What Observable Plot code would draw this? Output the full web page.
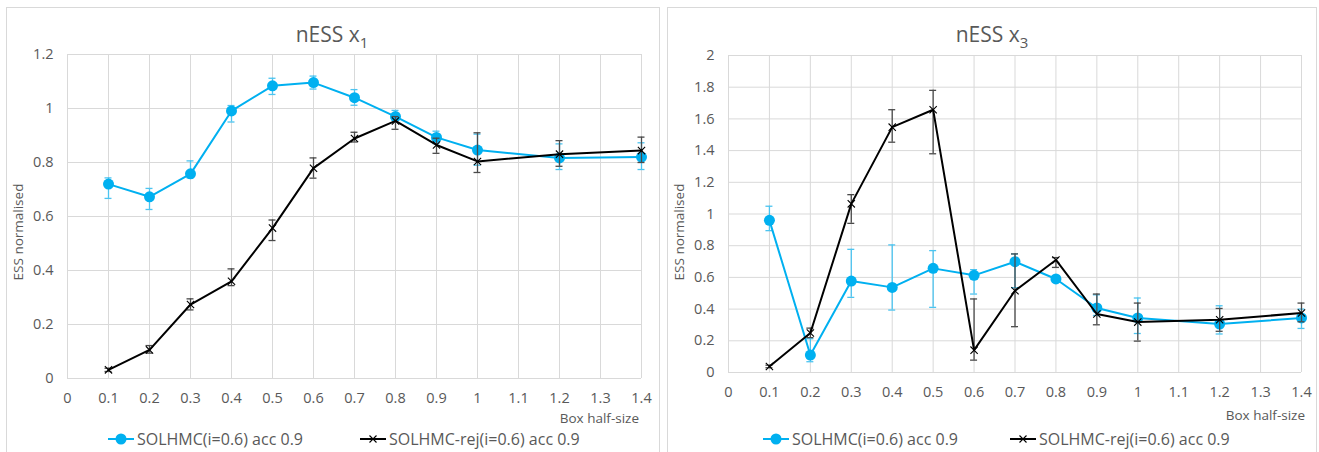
<!DOCTYPE html>
<html>
<head>
<meta charset="utf-8">
<script src="https://cdn.jsdelivr.net/npm/d3@7"></script>
<script src="https://cdn.jsdelivr.net/npm/@observablehq/plot@0.6"></script>
<style>
  html, body { margin: 0; padding: 0; background: #fff; }
  body { width: 1319px; height: 452px; position: relative; overflow: hidden; font-family: "Open Sans", sans-serif; color: #595959; }
  .panel { position: absolute; border: 1px solid #d9d9d9; box-sizing: border-box; background: #fff; }
  .abs { position: absolute; white-space: nowrap; }
  .title { font-size: 21px; text-align: center; line-height: 26px; height: 26px; }
  .title sub { font-size: 15px; vertical-align: -6px; line-height: 0; }
  .xlab { font-size: 13.5px; line-height: 18px; height: 18px; text-align: right; }
  .ylab { font-size: 13.5px; line-height: 18px; height: 18px; width: 140px; text-align: center; transform: rotate(-90deg); transform-origin: 50% 50%; }
  .legend { font-size: 16px; line-height: 22px; height: 22px; display: flex; align-items: center; }
  .legend svg { display: block; }
  .plotsvg { position: absolute; }
</style>
</head>
<body>
<div id="root"></div>
<script>
// ---------- data ----------
const xValues = [0.1, 0.2, 0.3, 0.4, 0.5, 0.6, 0.7, 0.8, 0.9, 1.0, 1.2, 1.4];
const xTicks = [0, 0.1, 0.2, 0.3, 0.4, 0.5, 0.6, 0.7, 0.8, 0.9, 1.0, 1.1, 1.2, 1.3, 1.4];
const yTicksLeft = [0, 0.2, 0.4, 0.6, 0.8, 1.0, 1.2];
const yTicksRight = [0, 0.2, 0.4, 0.6, 0.8, 1.0, 1.2, 1.4, 1.6, 1.8, 2.0];
const seriesNames = ["SOLHMC(i=0.6) acc 0.9", "SOLHMC-rej(i=0.6) acc 0.9"];
const titles = ["nESS x", "nESS x"];
const titleSubs = ["1", "3"];
const xAxisTitle = "Box half-size";
const yAxisTitle = "ESS normalised";

// nESS x1 (left)
const x1SolMean = [0.720, 0.673, 0.758, 0.991, 1.084, 1.096, 1.040, 0.970, 0.893, 0.846, 0.817, 0.820];
const x1SolLow  = [0.667, 0.626, 0.743, 0.950, 1.052, 1.072, 1.012, 0.956, 0.870, 0.790, 0.774, 0.774];
const x1SolHigh = [0.743, 0.704, 0.806, 1.011, 1.112, 1.120, 1.070, 0.993, 0.916, 0.905, 0.869, 0.873];
const x1RejMean = [0.032, 0.106, 0.274, 0.360, 0.557, 0.779, 0.889, 0.954, 0.865, 0.804, 0.831, 0.844];
const x1RejLow  = [0.026, 0.094, 0.254, 0.344, 0.511, 0.742, 0.876, 0.923, 0.834, 0.763, 0.786, 0.800];
const x1RejHigh = [0.038, 0.122, 0.295, 0.406, 0.587, 0.817, 0.912, 0.970, 0.890, 0.910, 0.881, 0.894];

// nESS x3 (right)
const x3SolMean = [0.960, 0.110, 0.577, 0.537, 0.657, 0.613, 0.699, 0.590, 0.407, 0.344, 0.306, 0.344];
const x3SolLow  = [0.895, 0.068, 0.474, 0.394, 0.411, 0.495, 0.535, 0.570, 0.360, 0.246, 0.243, 0.278];
const x3SolHigh = [1.049, 0.213, 0.777, 0.805, 0.769, 0.649, 0.748, 0.610, 0.490, 0.470, 0.421, 0.400];
const x3RejMean = [0.038, 0.249, 1.064, 1.548, 1.658, 0.141, 0.516, 0.710, 0.369, 0.318, 0.333, 0.375];
const x3RejLow  = [0.030, 0.220, 0.941, 1.453, 1.380, 0.078, 0.289, 0.663, 0.301, 0.198, 0.260, 0.320];
const x3RejHigh = [0.046, 0.280, 1.122, 1.658, 1.780, 0.464, 0.748, 0.725, 0.495, 0.438, 0.404, 0.438];

// ---------- styles ----------
const BLUE = "#00b0f0";
const BLUE_ERR = "#4cc4f0";
const BLACK = "#000000";
const BLACK_ERR = "#4a4a4a";
const GRID = "#d9d9d9";

function rows(mean, low, high) {
  return xValues.map((x, i) => ({x, y: mean[i], lo: low[i], hi: high[i]}));
}
const fmt = d => String(+(+d).toFixed(1));

function errMarks(data, color) {
  return [
    Plot.ruleX(data, {x: "x", y1: "lo", y2: "hi", stroke: color, strokeWidth: 1.3}),
    Plot.ruleY(data, {y: "hi", x1: "x", x2: "x", insetLeft: -3.5, insetRight: -3.5, stroke: color, strokeWidth: 1.3}),
    Plot.ruleY(data, {y: "lo", x1: "x", x2: "x", insetLeft: -3.5, insetRight: -3.5, stroke: color, strokeWidth: 1.3})
  ];
}

function makeChart(cfg) {
  const sol = rows(cfg.solMean, cfg.solLow, cfg.solHigh);
  const rej = rows(cfg.rejMean, cfg.rejLow, cfg.rejHigh);
  const svg = Plot.plot({
    width: cfg.width,
    height: cfg.height,
    marginLeft: cfg.ml, marginRight: cfg.mr, marginTop: cfg.mt, marginBottom: cfg.mb,
    style: {fontFamily: "'Open Sans', sans-serif", fontSize: "14.5px", color: "#595959", background: "transparent", overflow: "visible"},
    x: {domain: [0, 1.4], ticks: xTicks, tickFormat: fmt, tickSize: 0, tickPadding: 14, label: null},
    y: {domain: cfg.yDomain, ticks: cfg.yTicks, tickFormat: fmt, tickSize: 0, tickPadding: 14, label: null},
    marks: [
      Plot.ruleX(xTicks, {x: d => d, stroke: GRID, strokeWidth: 1}),
      Plot.ruleY(cfg.yTicks, {y: d => d, stroke: GRID, strokeWidth: 1}),
      ...errMarks(sol, BLUE_ERR),
      Plot.line(sol, {x: "x", y: "y", stroke: BLUE, strokeWidth: 2}),
      Plot.dot(sol, {x: "x", y: "y", r: 5.5, fill: BLUE, stroke: "none"}),
      ...errMarks(rej, BLACK_ERR),
      Plot.line(rej, {x: "x", y: "y", stroke: BLACK, strokeWidth: 2}),
      Plot.dot(rej, {x: "x", y: "y", symbol: "times", r: 3.4, stroke: BLACK, strokeWidth: 1.1, fill: "none"})
    ]
  });
  svg.classList.add("plotsvg");
  svg.style.left = cfg.left + "px";
  svg.style.top = cfg.top + "px";
  return svg;
}

function addDiv(cls, html, style) {
  const d = document.createElement("div");
  d.className = "abs " + cls;
  d.innerHTML = html;
  Object.assign(d.style, style);
  document.getElementById("root").appendChild(d);
  return d;
}

function legendItem(kind, name, left, top) {
  const ns = "http://www.w3.org/2000/svg";
  const d = addDiv("legend", "", {left: left + "px", top: top + "px"});
  const s = document.createElementNS(ns, "svg");
  s.setAttribute("width", 27); s.setAttribute("height", 14);
  const l = document.createElementNS(ns, "line");
  l.setAttribute("x1", 0); l.setAttribute("x2", 26); l.setAttribute("y1", 7); l.setAttribute("y2", 7);
  l.setAttribute("stroke", kind === "sol" ? BLUE : BLACK); l.setAttribute("stroke-width", 2);
  s.appendChild(l);
  if (kind === "sol") {
    const c = document.createElementNS(ns, "circle");
    c.setAttribute("cx", 13); c.setAttribute("cy", 7); c.setAttribute("r", 5.5); c.setAttribute("fill", BLUE);
    s.appendChild(c);
  } else {
    const p = document.createElementNS(ns, "path");
    p.setAttribute("d", "M9.5,3.5L16.5,10.5M16.5,3.5L9.5,10.5");
    p.setAttribute("stroke", BLACK); p.setAttribute("stroke-width", 1.1);
    s.appendChild(p);
  }
  d.appendChild(s);
  const t = document.createElement("span");
  t.textContent = name;
  t.style.marginLeft = "2px";
  d.appendChild(t);
}

const root = document.getElementById("root");
// panels
const p1 = document.createElement("div"); p1.className = "panel";
Object.assign(p1.style, {left: "6px", top: "7px", width: "654px", height: "460px"});
root.appendChild(p1);
const p2 = document.createElement("div"); p2.className = "panel";
Object.assign(p2.style, {left: "667px", top: "7px", width: "650px", height: "460px"});
root.appendChild(p2);

// charts
root.appendChild(makeChart({
  left: 6, top: 7, width: 653, height: 400, ml: 61, mr: 18, mt: 47, mb: 29,
  yDomain: [0, 1.2], yTicks: yTicksLeft,
  solMean: x1SolMean, solLow: x1SolLow, solHigh: x1SolHigh,
  rejMean: x1RejMean, rejLow: x1RejLow, rejHigh: x1RejHigh
}));
root.appendChild(makeChart({
  left: 667, top: 7, width: 649, height: 400, ml: 61, mr: 15, mt: 48, mb: 35,
  yDomain: [0, 2], yTicks: yTicksRight,
  solMean: x3SolMean, solLow: x3SolLow, solHigh: x3SolHigh,
  rejMean: x3RejMean, rejLow: x3RejLow, rejHigh: x3RejHigh
}));

// titles
addDiv("title", titles[0] + "<sub>" + titleSubs[0] + "</sub>", {left: "232px", width: "200px", top: "21px"});
addDiv("title", titles[1] + "<sub>" + titleSubs[1] + "</sub>", {left: "892px", width: "200px", top: "21px"});
// x axis titles
addDiv("xlab", xAxisTitle, {left: "439px", width: "200px", top: "409px"});
addDiv("xlab", xAxisTitle, {left: "1105px", width: "200px", top: "406px"});
// y axis titles
addDiv("ylab", yAxisTitle, {left: (18 - 70) + "px", top: (232 - 9) + "px"});
addDiv("ylab", yAxisTitle, {left: (679 - 70) + "px", top: (232 - 9) + "px"});
// legends
legendItem("sol", seriesNames[0], 108, 428);
legendItem("rej", seriesNames[1], 360, 428);
legendItem("sol", seriesNames[0], 763, 428);
legendItem("rej", seriesNames[1], 1010, 428);
</script>
</body>
</html>
